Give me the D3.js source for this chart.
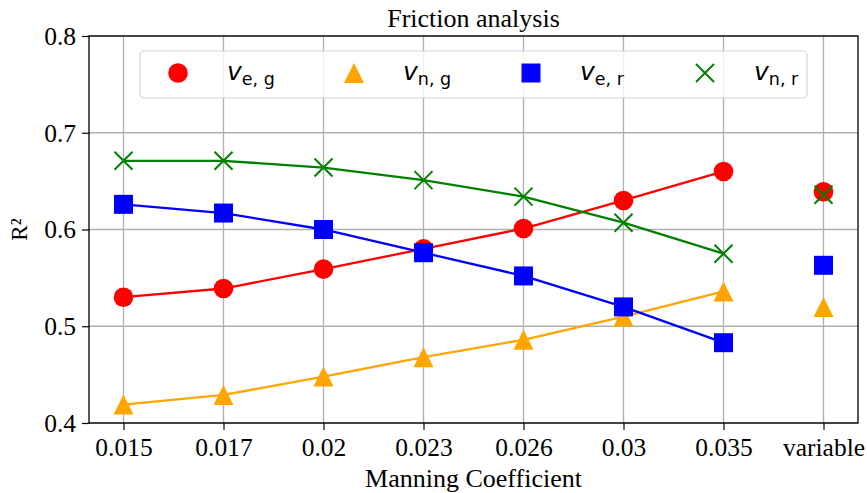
<!doctype html>
<html>
  <head>
    <meta charset="utf-8">
    <title>Friction analysis</title>
    <script src="https://d3js.org/d3.v7.min.js"></script>
    <style type="text/css">
      body { margin: 0; background-color: #ffffff; }
      text { font-family: "Liberation Serif", "Times New Roman", serif; fill: #000; }
    </style>
  </head>
  <body>
    <script>
      // categories on x
      var categories = ["0.015", "0.017", "0.02", "0.023", "0.026", "0.03", "0.035", "variable"];
      // R² values, last one is the "variable" run (not joined by the line)
      var veg = [0.530, 0.539, 0.559, 0.580, 0.601, 0.630, 0.660, 0.639];
      var vng = [0.419, 0.429, 0.448, 0.468, 0.486, 0.510, 0.536, 0.520];
      var ver = [0.626, 0.617, 0.600, 0.576, 0.552, 0.520, 0.483, 0.563];
      var vnr = [0.671, 0.671, 0.664, 0.651, 0.634, 0.607, 0.575, 0.636];
      var yTicks = [0.4, 0.5, 0.6, 0.7, 0.8];

      var w = 867, h = 493;
      var margin = {top: 36, right: 9, bottom: 70, left: 89};

      var svg = d3.select("body").append("svg")
        .attr("width", w)
        .attr("height", h);

      var x = d3.scalePoint()
        .domain(categories)
        .range([margin.left, w - margin.right])
        .padding(0.345);

      var y = d3.scaleLinear()
        .domain([0.4, 0.8])
        .range([h - margin.bottom, margin.top]);

      // grid
      var grid = svg.append("g");
      grid.selectAll("line.gx").data(categories).enter().append("line")
        .attr("x1", d => x(d)).attr("x2", d => x(d))
        .attr("y1", y(0.4)).attr("y2", y(0.8))
        .attr("stroke", "#b0b0b0").attr("stroke-width", 1.3);
      grid.selectAll("line.gy").data(yTicks).enter().append("line")
        .attr("x1", margin.left).attr("x2", w - margin.right)
        .attr("y1", d => y(d)).attr("y2", d => y(d))
        .attr("stroke", "#b0b0b0").attr("stroke-width", 1.3);

      // axes
      var xAxis = svg.append("g")
        .attr("transform", "translate(0," + y(0.4) + ")")
        .call(d3.axisBottom(x).tickSizeOuter(0).tickSize(7).tickPadding(6));
      var yAxis = svg.append("g")
        .attr("transform", "translate(" + margin.left + ",0)")
        .call(d3.axisLeft(y).tickValues(yTicks).tickFormat(d3.format(".1f")).tickSizeOuter(0).tickSize(7).tickPadding(6));
      [xAxis, yAxis].forEach(function(a) {
        a.select(".domain").remove();
        a.selectAll(".tick line").attr("stroke", "#000").attr("stroke-width", 1.2);
        a.selectAll(".tick text")
          .style("font-family", '"Liberation Serif", serif')
          .style("font-size", "25.5px")
          .attr("fill", "#000");
      });
      xAxis.selectAll(".tick text").attr("dy", "0.8em");
      yAxis.selectAll(".tick text").attr("dy", "0.33em");

      // frame
      svg.append("rect")
        .attr("x", margin.left).attr("y", margin.top)
        .attr("width", w - margin.left - margin.right)
        .attr("height", h - margin.top - margin.bottom)
        .attr("fill", "none").attr("stroke", "#000").attr("stroke-width", 1.3);

      // series
      var series = [
        {name: "e, g", values: veg, color: "red", shape: "circle"},
        {name: "n, g", values: vng, color: "orange", shape: "triangle"},
        {name: "e, r", values: ver, color: "blue", shape: "square"},
        {name: "n, r", values: vnr, color: "green", shape: "x"}
      ];

      function marker(g, shape, color) {
        if (shape === "circle") {
          g.append("circle").attr("r", 9.8).attr("fill", color);
        } else if (shape === "square") {
          g.append("rect").attr("x", -9.5).attr("y", -9.5).attr("width", 19).attr("height", 19).attr("fill", color);
        } else if (shape === "triangle") {
          g.append("path").attr("d", "M0,-10L10,10L-10,10Z").attr("fill", color);
        } else {
          g.append("path").attr("d", "M-9,-9L9,9M-9,9L9,-9")
            .attr("stroke", color).attr("stroke-width", 2).attr("fill", "none");
        }
      }

      var line = d3.line()
        .x((d, i) => x(categories[i]))
        .y(d => y(d));

      var plot = svg.append("g");
      series.forEach(function(s) {
        var joined = s.values.slice(0, 7);
        plot.append("path")
          .attr("d", line(joined))
          .attr("fill", "none")
          .attr("stroke", s.color)
          .attr("stroke-width", 2.3);
        joined.forEach(function(v, i) {
          var g = plot.append("g").attr("transform", "translate(" + x(categories[i]) + "," + y(v) + ")");
          marker(g, s.shape, s.color);
        });
      });
      // the "variable" run
      series.forEach(function(s) {
        var g = plot.append("g").attr("transform", "translate(" + x("variable") + "," + y(s.values[7]) + ")");
        marker(g, s.shape, s.color);
      });

      // legend
      var legend = svg.append("g");
      legend.append("rect")
        .attr("x", 140).attr("y", 51).attr("width", 667).attr("height", 47)
        .attr("rx", 4)
        .attr("fill", "#fff").attr("fill-opacity", 0.8)
        .attr("stroke", "#d5d5d5").attr("stroke-width", 1.2);
      var legX = [178, 354, 531, 705];
      series.forEach(function(s, i) {
        var g = legend.append("g").attr("transform", "translate(" + legX[i] + ",73)");
        marker(g, s.shape, s.color);
        var t = legend.append("text")
          .attr("x", legX[i] + 49).attr("y", 80)
          .style("font-family", '"DejaVu Sans", sans-serif');
        t.append("tspan").text("v").style("font-style", "italic").style("font-size", "25px");
        t.append("tspan").text(s.name).attr("dy", 4.5).style("font-size", "17.5px");
      });

      // titles
      svg.append("text")
        .attr("x", (margin.left + w - margin.right) / 2).attr("y", 27)
        .attr("text-anchor", "middle")
        .style("font-size", "26px")
        .text("Friction analysis");
      svg.append("text")
        .attr("x", (margin.left + w - margin.right) / 2).attr("y", 487)
        .attr("text-anchor", "middle")
        .style("font-size", "26px")
        .text("Manning Coefficient");
      svg.append("text")
        .attr("transform", "translate(27," + ((margin.top + h - margin.bottom) / 2) + ") rotate(-90)")
        .attr("text-anchor", "middle")
        .style("font-size", "23px")
        .text("R²");
    </script>
  </body>
</html>
